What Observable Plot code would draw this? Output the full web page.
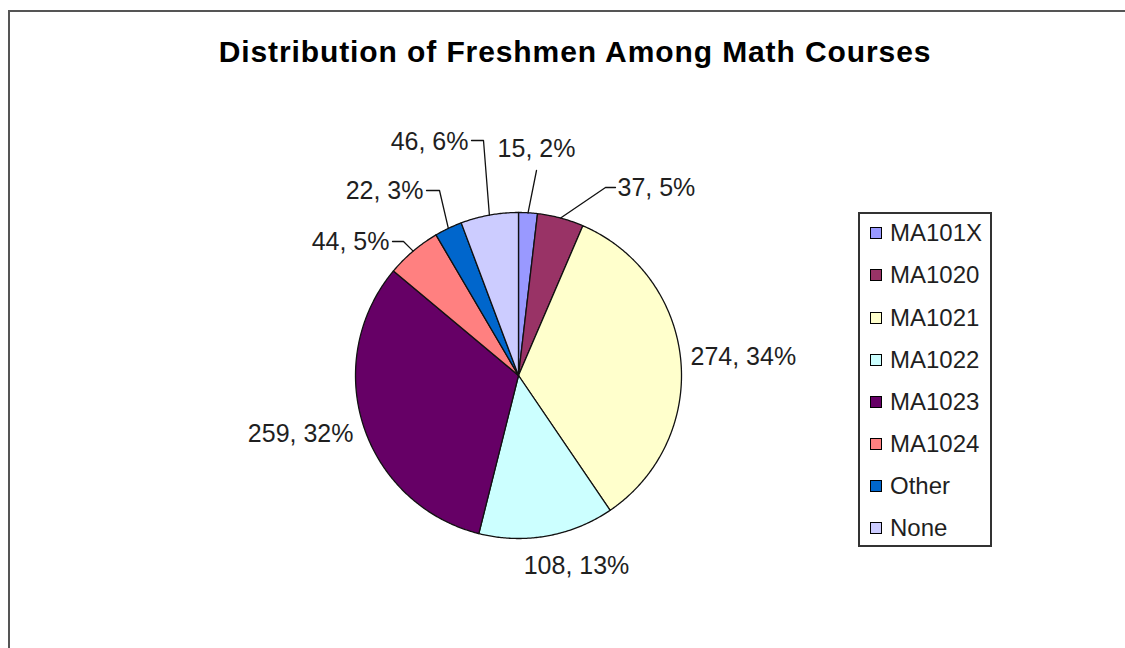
<!DOCTYPE html>
<html>
<head>
<meta charset="utf-8">
<script src="https://cdn.jsdelivr.net/npm/d3@7"></script>
<script src="https://cdn.jsdelivr.net/npm/@observablehq/plot@0.6"></script>
<style>
  html, body { margin: 0; padding: 0; background: #fff; overflow: hidden; }
  #wrap { position: relative; width: 1125px; height: 648px; overflow: hidden; font-family: "Liberation Sans", Arial, sans-serif; }
  #frame { position: absolute; left: 8px; top: 10px; width: 1200px; height: 700px; border-top: 2px solid #555; border-left: 2px solid #555; box-sizing: border-box; }
  #title { position: absolute; left: 0; width: 1150px; top: 37px; text-align: center; font-size: 30px; line-height: 30px; font-weight: bold; letter-spacing: 0.9px; color: #000; }
  #chart { position: absolute; left: 0; top: 0; }
  #legend { position: absolute; left: 858px; top: 212px; width: 134px; height: 335px; border: 2px solid #333; box-sizing: border-box; background: #fff; }
  .row { position: absolute; left: 10px; height: 30px; display: flex; align-items: center; font-size: 24px; color: #1f1f1f; }
  .sw { width: 10px; height: 10px; border: 1.5px solid #000; margin-right: 8px; }
</style>
</head>
<body>
<div id="wrap">
  <div id="frame"></div>
  <div id="chart"></div>
  <div id="title"></div>
  <div id="legend"></div>
</div>
<script>
// ---- data ----
const title = "Distribution of Freshmen Among Math Courses";
const categories = ["MA101X", "MA1020", "MA1021", "MA1022", "MA1023", "MA1024", "Other", "None"];
const counts = [15, 37, 274, 108, 259, 44, 22, 46];
const colors = ["#9999FF", "#993366", "#FFFFCC", "#CCFFFF", "#660066", "#FF8080", "#0066CC", "#CCCCFF"];

// ---- layout (page pixels) ----
const W = 1125, H = 648;
const cx = 518, cy = 375, R = 163;
const labelLayout = {
  MA101X: {at: [536, 148], anchor: "middle", leader: [[536, 170]]},
  MA1020: {at: [617, 187], anchor: "start", leader: [[615, 187], [605, 187]]},
  MA1021: {at: [690, 356], anchor: "start"},
  MA1022: {at: [576, 565], anchor: "middle"},
  MA1023: {at: [353, 433], anchor: "end"},
  MA1024: {at: [389, 241], anchor: "end", leader: [[392, 241], [403, 241]]},
  Other:  {at: [423, 190], anchor: "end", leader: [[426, 190], [439, 190]]},
  None:   {at: [468, 141], anchor: "end", leader: [[471, 140], [483, 140]]}
};
const ux = px => (px - cx) / R;
const uy = py => (cy - py) / R;

document.getElementById("title").textContent = title;

const data = categories.map((c, i) => ({key: c, count: counts[i]}));
const total = d3.sum(counts);
const arcs = d3.pie().sort(null).value(d => d.count)(data);

// slice polygons in unit-radius coordinates
const slicePts = [];
for (const a of arcs) {
  const key = a.data.key;
  slicePts.push({key, x: 0, y: 0});
  const n = Math.max(2, Math.ceil((a.endAngle - a.startAngle) / (Math.PI / 360)));
  for (let k = 0; k <= n; k++) {
    const t = a.startAngle + (a.endAngle - a.startAngle) * k / n;
    slicePts.push({key, x: Math.sin(t), y: Math.cos(t)});
  }
  slicePts.push({key, x: 0, y: 0});
}

// labels and leaders
const labels = arcs.map(a => {
  const key = a.data.key, L = labelLayout[key];
  return {key, anchor: L.anchor, x: ux(L.at[0]), y: uy(L.at[1]),
    text: `${a.data.count}, ${Math.round(a.data.count / total * 100)}%`};
});
const leaderPts = [];
for (const a of arcs) {
  const L = labelLayout[a.data.key];
  if (!L.leader) continue;
  for (const p of L.leader) leaderPts.push({key: a.data.key, x: ux(p[0]), y: uy(p[1])});
  const m = (a.startAngle + a.endAngle) / 2;
  leaderPts.push({key: a.data.key, x: Math.sin(m), y: Math.cos(m)});
}

const font = "'Liberation Sans', Arial, sans-serif";
const textMark = anchor => Plot.text(labels.filter(d => d.anchor === anchor), {
  x: "x", y: "y", text: "text", textAnchor: anchor, fontSize: 25, fontFamily: font, fill: "#1f1f1f"
});

const plot = Plot.plot({
  width: W, height: H, margin: 0,
  x: {domain: [ux(0), ux(W)], axis: null},
  y: {domain: [uy(H), uy(0)], axis: null},
  color: {domain: categories, range: colors},
  style: {background: "transparent", fontFamily: font},
  marks: [
    Plot.line(slicePts, {x: "x", y: "y", z: "key", fill: "key", stroke: "#111", strokeWidth: 1.3, curve: "linear"}),
    Plot.line(leaderPts, {x: "x", y: "y", z: "key", stroke: "#111", strokeWidth: 1.3}),
    textMark("start"), textMark("middle"), textMark("end")
  ]
});
document.getElementById("chart").appendChild(plot);

// legend
const legend = document.getElementById("legend");
categories.forEach((c, i) => {
  const row = document.createElement("div");
  row.className = "row";
  row.style.top = (233.3 + 42.14 * i - 212 - 2 - 15) + "px";
  const sw = document.createElement("span");
  sw.className = "sw";
  sw.style.background = colors[i];
  const tx = document.createElement("span");
  tx.textContent = c;
  row.appendChild(sw); row.appendChild(tx);
  legend.appendChild(row);
});
</script>
</body>
</html>
